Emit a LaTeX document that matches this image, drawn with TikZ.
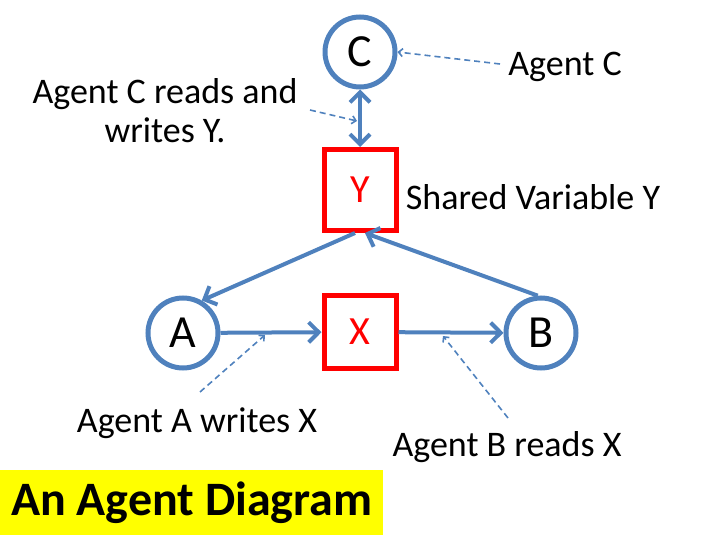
\documentclass[tikz,border=0pt]{standalone}
\usepackage{fontspec}
\setmainfont{Carlito}
\usetikzlibrary{arrows.meta}
\definecolor{ablue}{HTML}{4F81BD}
\definecolor{ared}{HTML}{FF0000}
\definecolor{ayellow}{HTML}{FFFF00}
\begin{document}
\begin{tikzpicture}[x=1pt,y=-1pt,
  agent/.style={circle,draw=ablue,line width=5pt,minimum size=70pt,inner sep=0pt,font=\fontsize{46}{50}\selectfont},
  var/.style={rectangle,draw=ared,line width=5pt,minimum width=72pt,inner sep=0pt,text=ared,font=\fontsize{40}{44}\selectfont},
  link/.style={draw=ablue,line width=4pt,-{Straight Barb[length=10pt,width=20pt]}},
  note/.style={draw=ablue,line width=1.6pt,dash pattern=on 6pt off 4pt,-{Straight Barb[length=4pt,width=8pt]}},
  lbl/.style={font=\fontsize{36}{39}\selectfont,align=center,inner sep=0pt}]
\useasboundingbox (0,0) rectangle (720,540);
\node[agent] (C) at (360,52) {C};
\node[var,minimum height=81pt] (Y) at (360,190) {Y};
\node[agent] (A) at (183,333) {A};
\node[var,minimum height=73pt] (X) at (360,332) {X};
\node[agent] (B) at (541,333) {B};
% connectors
\draw[link,{Straight Barb[length=10pt,width=20pt]}-{Straight Barb[length=10pt,width=20pt]}] (C) -- (Y);
\draw[link] (A) -- (X);
\draw[link] (X) -- (B);
\path (Y.south) ++(-5,0) coordinate (ys1);
\path (Y.south) ++(5,0) coordinate (ys2);
\draw[link] (ys1) -- (A.60);
\draw[link] (B.95) -- (ys2);
% labels
\node[lbl] (lC) at (565,67) {Agent C};
\node[lbl] (lCY) at (165,111) {Agent C reads and\\writes Y.};
\node[lbl] (lY) at (533,197) {Shared Variable Y};
\node[lbl] (lA) at (197,423) {Agent A writes X};
\node[lbl] (lB) at (507,447) {Agent B reads X};
% dashed notes
\coordinate (nC) at (500,64);
\coordinate (nCY) at (310,110);
\coordinate (tCY) at (357,121);
\coordinate (nA) at (200,392);
\coordinate (tA) at (265,335);
\coordinate (nB) at (508,418);
\coordinate (tB) at (443,336);
\draw[note] (nC) -- (C.east);
\draw[note] (nCY) -- (tCY);
\draw[note] (nA) -- (tA);
\draw[note] (nB) -- (tB);
% title
\node[fill=ayellow,minimum width=383pt,minimum height=65pt,inner sep=0pt,anchor=north west,font=\fontsize{48}{52}\selectfont\bfseries] (T) at (0,470) {An Agent Diagram};
\end{tikzpicture}
\end{document}
